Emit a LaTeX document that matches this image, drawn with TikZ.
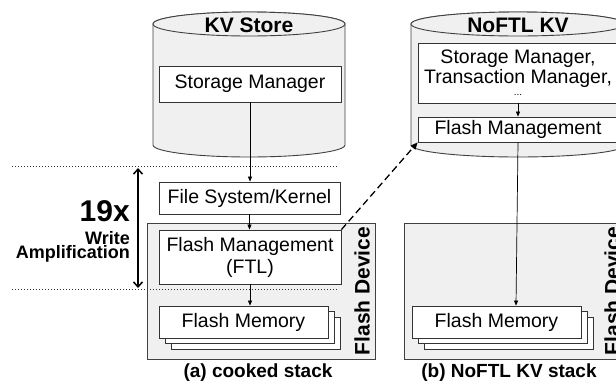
\documentclass[tikz,border=0pt]{standalone}
\usepackage{fontspec}
\setmainfont{Liberation Sans}
\usetikzlibrary{arrows.meta,shadows}
\begin{document}
\begin{tikzpicture}[x=1pt,y=-1pt,
  box/.style={draw=black!80, fill=white, line width=0.8pt, inner sep=0pt,
    font=\fontsize{19.5}{21}\selectfont, align=center},
  stackbox/.style={box, double copy shadow={shadow xshift=6pt, shadow yshift=-5.5pt}},
  cyl/.style={draw=black!75, fill=black!6, line width=0.9pt},
  dev/.style={draw=black!75, fill=black!6, line width=0.8pt},
  arr/.style={-{Triangle[length=5pt,width=4pt]}, line width=0.7pt},
  dotline/.style={dash pattern=on 1pt off 2pt, line width=0.9pt, draw=black!80},
  dashline/.style={dash pattern=on 7pt off 4pt, line width=1.3pt, -{Triangle[length=7pt,width=6pt]}},
  ttl/.style={font=\fontsize{21}{21}\bfseries\selectfont, inner sep=0pt},
  captxt/.style={font=\fontsize{19}{19}\bfseries\selectfont, inner sep=0pt, anchor=base},
  lbl/.style={font=\fontsize{18}{14}\bfseries\selectfont, inner sep=0pt, anchor=base east}]
\useasboundingbox (0,0) rectangle (616,381);
\clip (0,0) rectangle (616,381);

% cylinders
\path[cyl] (153,24) -- (153,145) arc[start angle=180, end angle=0, x radius=96, y radius=12]
  -- (345,24) arc[start angle=0, end angle=-180, x radius=96, y radius=12] -- cycle;
\draw[cyl] (249,24) ellipse[x radius=96, y radius=12];
\path[cyl] (411,24) -- (411,145) arc[start angle=180, end angle=0, x radius=107, y radius=12]
  -- (625,24) arc[start angle=0, end angle=-180, x radius=107, y radius=12] -- cycle;
\draw[cyl] (518,24) ellipse[x radius=107, y radius=12];
\node[ttl] (kv) at (249,25) {KV Store};
\node[ttl] (nkv) at (518,25) {NoFTL KV};

% flash devices
\node[dev, minimum width=228pt, minimum height=136pt, inner sep=0pt] (dev1) at (261,291) {};
\node[dev, minimum width=222pt, minimum height=136pt, inner sep=0pt] (dev2) at (515,291) {};
\node[ttl, rotate=90] (fd1) at (362,291) {Flash Device};
\node[ttl, rotate=90] (fd2) at (612,291) {Flash Device};

% boxes (a)
\node[box, minimum width=182pt, minimum height=36pt] (sm1) at (250,84) {Storage Manager};
\node[box, minimum width=181pt, minimum height=32pt] (fs) at (249.5,198) {File System/Kernel};
\node[box, minimum width=182pt, minimum height=54pt, font=\fontsize{19.5}{22}\selectfont] (ftl) at (250,257) {Flash Management\\(FTL)};
\node[stackbox, minimum width=169pt, minimum height=32pt] (mem1) at (243.5,322) {Flash Memory};

% boxes (b)
\node[box, minimum width=200pt, minimum height=60pt, font=\fontsize{19.5}{20}\selectfont] (sm2) at (518,73)
  {Storage Manager,\\Transaction Manager,\\[-8pt]{\fontsize{10}{10}\selectfont ...}};
\node[box, minimum width=200pt, minimum height=25pt] (fm2) at (518,129.5) {Flash Management};
\node[stackbox, minimum width=169pt, minimum height=32pt] (mem2) at (496.5,322) {Flash Memory};

% connectors
\draw[arr] (sm1.south) -- (sm1.south |- fs.north);
\draw[arr] (fs.south) -- (fs.south |- ftl.north);
\draw[arr] (ftl.south) -- (ftl.south |- mem1.north);
\draw[arr] (sm2.south) -- (fm2.north);
\draw[arr] (fm2.south) -- ([xshift=19.5pt]mem2.north);
\draw[dashline] (ftl.north east) -- (fm2.south west);

% dotted boundaries
\coordinate (d1a) at (12,166); \coordinate (d1b) at (337,166);
\coordinate (d2a) at (12,289); \coordinate (d2b) at (337,289);
\draw[dotline] (d1a) -- (d1b);
\draw[dotline] (d2a) -- (d2b);

% write amplification
\coordinate (wt) at (138,168); \coordinate (wb) at (138,288);
\draw[{Straight Barb[length=5pt,width=9pt]}-{Straight Barb[length=5pt,width=9pt]}, line width=1.5pt] (wt) -- (wb);
\node[lbl, font=\fontsize{30}{30}\bfseries\selectfont] (nx) at (130,221) {19x};
\node[lbl] (w1) at (130,244) {Write};
\node[lbl] (w2) at (130,258) {Amplification};

% captions
\node[captxt] (capa) at (258,377) {(a) cooked stack};
\node[captxt] (capb) at (509,377) {(b) NoFTL KV stack};
\end{tikzpicture}
\end{document}
